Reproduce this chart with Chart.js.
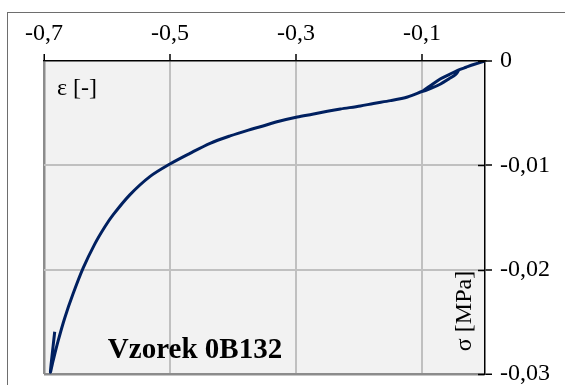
<!DOCTYPE html>
<html>
<head>
<meta charset="utf-8">
<script src="https://cdn.jsdelivr.net/npm/chart.js@4/dist/chart.umd.min.js"></script>
<style>
  html, body { margin: 0; padding: 0; background: #fff; }
  #wrap { width: 565px; height: 385px; position: relative; }
</style>
</head>
<body>
<div id="wrap"><canvas id="c" width="565" height="385"></canvas></div>
<script>
// Strain (ε) and stress (σ) along the measured path, including the small
// unload/reload loop near the start and the rebound at the end.
const strain = [
  0, -0.018, -0.03, -0.0434, -0.057, -0.0705, -0.085, -0.0991,
  -0.085, -0.0705, -0.057, -0.046, -0.042,
  -0.047, -0.057, -0.0705, -0.085, -0.0991,
  -0.123, -0.15, -0.177, -0.1978, -0.2295, -0.2502, -0.274, -0.298,
  -0.327, -0.3566, -0.3755, -0.4046, -0.4364, -0.4683, -0.5001,
  -0.532, -0.5638, -0.5904, -0.6036, -0.6195, -0.6381, -0.654,
  -0.6672, -0.6778, -0.6858, -0.6898, -0.683
];
const stress = [
  0, -0.00034, -0.0006, -0.0009, -0.0013, -0.0017, -0.0023, -0.0029,
  -0.0026, -0.0022, -0.0017, -0.00125, -0.0009,
  -0.0013, -0.0017, -0.0022, -0.0026, -0.0029,
  -0.00345, -0.0038, -0.00407, -0.00431, -0.0046, -0.00482, -0.0051, -0.00537,
  -0.00578, -0.0063, -0.00662, -0.00718, -0.00789, -0.00885, -0.00987,
  -0.01108, -0.01283, -0.01475, -0.01591, -0.01755, -0.01988, -0.02234,
  -0.02465, -0.02688, -0.0288, -0.0298, -0.02595
];

const xTicks = [-0.7, -0.5, -0.3, -0.1];
const yTicks = [0, -0.01, -0.02, -0.03];

const strainLabel = 'ε [-]';
const stressLabel = 'σ [MPa]';
const sampleTitle = 'Vzorek 0B132';

const FONT = "'Liberation Serif', 'Times New Roman', serif";
const comma = v => String(v).replace('.', ',');

const points = strain.map((x, i) => ({ x, y: stress[i] }));

const decor = {
  id: 'decor',
  beforeDraw(chart) {
    const { ctx, chartArea: a } = chart;
    ctx.save();
    ctx.fillStyle = '#f2f2f2';
    ctx.fillRect(a.left, a.top, a.right - a.left, a.bottom - a.top);
    // outer frame
    ctx.strokeStyle = '#6e6e6e';
    ctx.lineWidth = 1;
    ctx.strokeRect(7.5, 12.5, 600, 400);
    ctx.restore();
  },
  afterDraw(chart) {
    const { ctx, chartArea: a, scales } = chart;
    ctx.save();
    // tick marks crossing into the plot on the stress axis
    ctx.strokeStyle = '#000';
    ctx.lineWidth = 1.5;
    yTicks.forEach(v => {
      const py = Math.round(scales.y.getPixelForValue(v)) + 0.5;
      ctx.beginPath();
      ctx.moveTo(a.right - 7, py);
      ctx.lineTo(a.right, py);
      ctx.stroke();
    });
    ctx.fillStyle = '#000';
    ctx.font = '24px ' + FONT;
    ctx.textAlign = 'left';
    ctx.textBaseline = 'middle';
    ctx.fillText(strainLabel, a.left + 13, 89);

    ctx.save();
    ctx.translate(a.right - 20, 311);
    ctx.rotate(-Math.PI / 2);
    ctx.textAlign = 'center';
    ctx.textBaseline = 'middle';
    ctx.fillText(stressLabel, 0, 0);
    ctx.restore();

    ctx.font = 'bold 29px ' + FONT;
    ctx.textAlign = 'center';
    ctx.textBaseline = 'middle';
    ctx.fillText(sampleTitle, 195, 351);
    ctx.restore();
  }
};

new Chart(document.getElementById('c'), {
  type: 'scatter',
  data: {
    datasets: [{
      data: points,
      showLine: true,
      borderColor: '#002060',
      borderWidth: 3,
      pointRadius: 0,
      tension: 0.3,
      fill: false
    }]
  },
  options: {
    responsive: false,
    animation: false,
    events: [],
    layout: { padding: { left: 44, top: 0, right: 0, bottom: 11 } },
    plugins: { legend: { display: false }, tooltip: { enabled: false } },
    scales: {
      x: {
        type: 'linear',
        position: 'top',
        min: -0.7,
        max: 0,
        afterBuildTicks: s => { s.ticks = xTicks.map(value => ({ value })); },
        afterFit: s => { s.height = 61; s.paddingLeft = 0; s.paddingRight = 0; },
        border: { color: '#000', width: 1.5 },
        grid: {
          color: c => (c.tick && c.tick.value === -0.7) ? '#8c8c8c' : '#c0c0c0',
          lineWidth: c => (c.tick && c.tick.value === -0.7) ? 2.5 : 2,
          tickColor: '#000',
          tickWidth: 1.5,
          tickLength: 7
        },
        ticks: {
          padding: 6,
          color: '#000',
          font: { family: FONT, size: 24 },
          maxRotation: 0,
          callback: v => comma(v)
        }
      },
      y: {
        type: 'linear',
        position: 'right',
        min: -0.03,
        max: 0,
        afterBuildTicks: s => { s.ticks = yTicks.map(value => ({ value })); },
        afterFit: s => { s.width = 80; s.paddingTop = 0; s.paddingBottom = 0; },
        border: { color: '#000', width: 1.5 },
        grid: {
          color: c => {
            if (!c.tick) return '#c0c0c0';
            if (c.tick.value === 0) return 'rgba(0,0,0,0)';
            if (c.tick.value === -0.03) return '#8c8c8c';
            return '#c0c0c0';
          },
          lineWidth: c => (c.tick && c.tick.value === -0.03) ? 2.5 : 2,
          tickColor: '#000',
          tickWidth: 1.5,
          tickLength: 7
        },
        ticks: {
          padding: 8,
          color: '#000',
          font: { family: FONT, size: 24 },
          callback: v => comma(v)
        }
      }
    }
  },
  plugins: [decor]
});
</script>
</body>
</html>
